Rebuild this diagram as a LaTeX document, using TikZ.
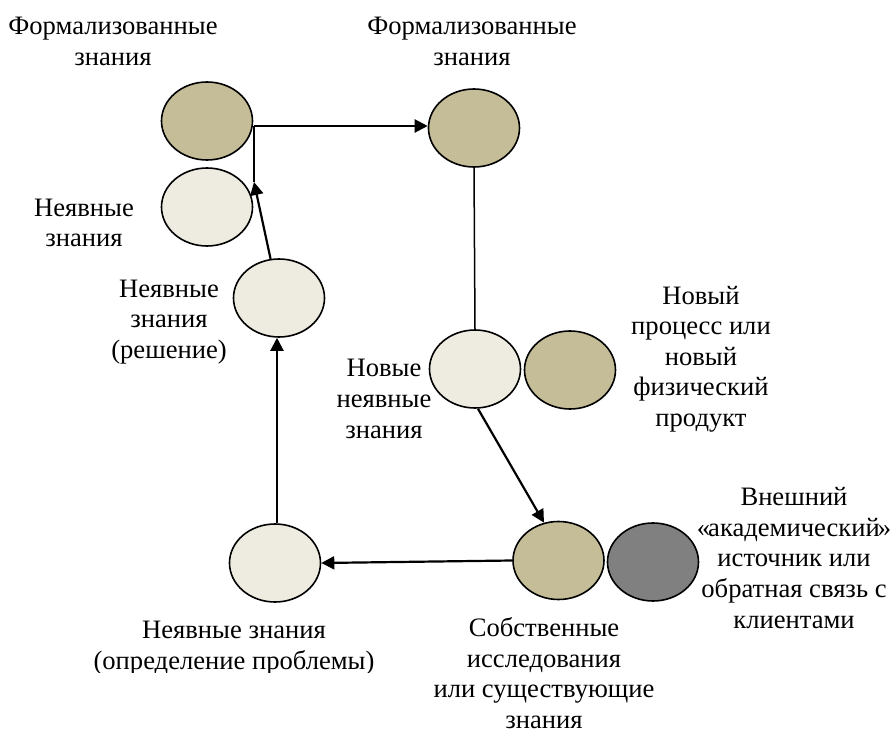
\documentclass[tikz,border=0pt]{standalone}
\usepackage{fontspec}
\setmainfont{Liberation Serif}
\usetikzlibrary{shapes.geometric,arrows.meta}
\definecolor{khaki}{HTML}{C4BD97}
\definecolor{pale}{HTML}{EEECE1}
\definecolor{darkgrey}{HTML}{808080}
\begin{document}
\begin{tikzpicture}[x=1pt,y=-1pt,
  blob/.style={ellipse,draw=black,line width=1.6pt,minimum width=91pt,minimum height=78pt,inner sep=0pt},
  formal/.style={blob,fill=khaki},
  tacit/.style={blob,fill=pale},
  extern/.style={blob,fill=darkgrey},
  lbl/.style={align=center,inner sep=0pt,font=\fontsize{26.6}{30.6}\selectfont},
  arr/.style={line width=2.2pt,-{Triangle[length=13pt,width=13pt]}},
  thin/.style={line width=1.5pt}]
\useasboundingbox (0,0) rectangle (892,735);

% ellipses
\node[formal] (A) at (207,121) {};
\node[tacit]  (B) at (207,207) {};
\node[tacit]  (C) at (279,298) {};
\node[formal] (D) at (474,128) {};
\node[tacit]  (E) at (475,369) {};
\node[formal] (F) at (570,370) {};
\node[formal] (G) at (558.5,560.5) {};
\node[extern] (H) at (653,562) {};
\node[tacit]  (I) at (275,563) {};

% junction coordinates
\coordinate (j) at (254,126);
\coordinate (k) at (254,182);

% connectors
\draw[thin] (j) -- (k);
\draw[arr] (j) -- (j -| D.west);
\draw[arr] (C) -- (k);
\draw[arr] ([xshift=2pt]I.north) -- ([xshift=-2pt]C.south);
\draw[arr] (G.west) -- (I.east);
\draw[arr] ([xshift=3pt]E.south) -- (G.111);
\draw[thin] (D.south) -- (E.north);

% labels
\node[lbl] (t1) at (113,41.5) {Формализованные\\знания};
\node[lbl] (t2) at (472,41.5) {Формализованные\\знания};
\node[lbl] (t3) at (84,223) {Неявные\\знания};
\node[lbl] (t4) at (169,322) {Неявные\\знания\\(решение)};
\node[lbl] (t5) at (384,399) {Новые\\неявные\\знания};
\node[lbl] (t6) at (701,359) {Новый\\процесс или\\новый\\физический\\продукт};
\node[lbl] (t7) at (794,558) {Внешний\\«\kern-2pt академический\kern-2pt»\\источник или\\обратная связь с\\клиентами};
\node[lbl] (t8) at (544,673) {Собственные\\исследования\\или существующие\\знания};
\begin{scope}
\clip (60,600) rectangle (420,672);
\node[lbl] (t9) at (234,648) {Неявные знания\\(определение проблемы)};
\end{scope}
\end{tikzpicture}
\end{document}
